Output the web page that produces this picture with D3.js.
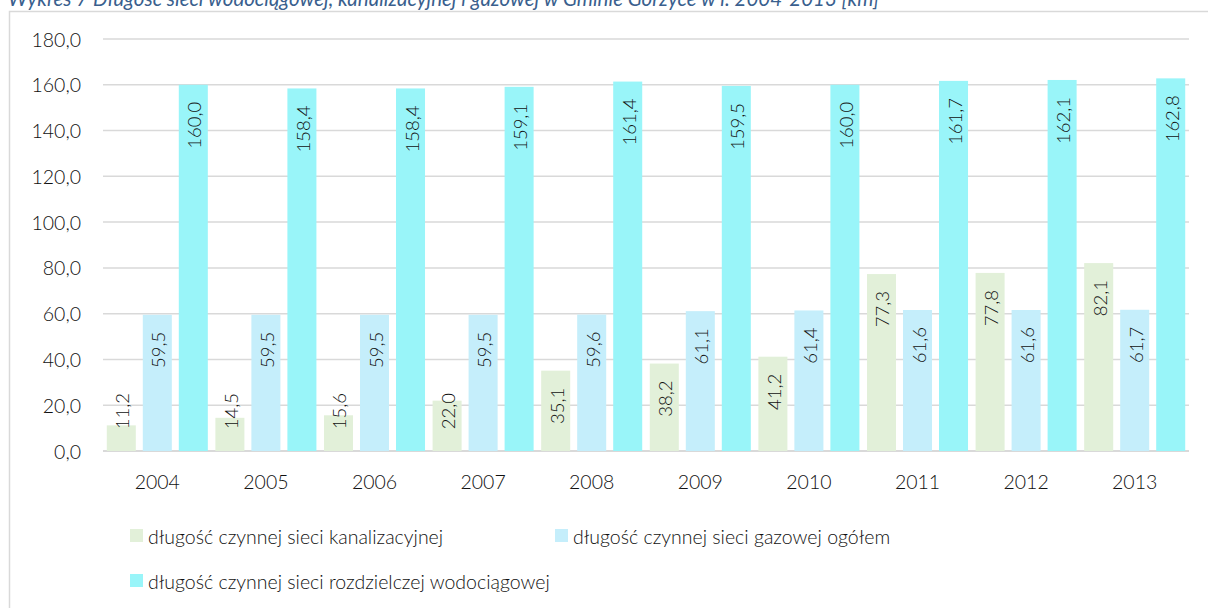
<!DOCTYPE html>
<html>
<head>
<meta charset="utf-8">
<script src="https://cdn.jsdelivr.net/npm/d3@7"></script>
<style>
  body { margin: 0; background: #fff; }
  svg text { font-family: Lato, "Open Sans", sans-serif; font-weight: 300; fill: #111; }
</style>
</head>
<body>
<div id="chart"></div>
<script>
// categories and series
const years = ['2004', '2005', '2006', '2007', '2008', '2009', '2010', '2011', '2012', '2013'];
const kanalizacja = [11.2, 14.5, 15.6, 22.0, 35.1, 38.2, 41.2, 77.3, 77.8, 82.1];
const gaz = [59.5, 59.5, 59.5, 59.5, 59.6, 61.1, 61.4, 61.6, 61.6, 61.7];
const wodociag = [160.0, 158.4, 158.4, 159.1, 161.4, 159.5, 160.0, 161.7, 162.1, 162.8];
const seriesNames = [
  'długość czynnej sieci kanalizacyjnej',
  'długość czynnej sieci gazowej ogółem',
  'długość czynnej sieci rozdzielczej wodociągowej'
];
const yTicks = [0, 20, 40, 60, 80, 100, 120, 140, 160, 180];
const title = 'Wykres 7 Długość sieci wodociągowej, kanalizacyjnej i gazowej w Gminie Gorzyce w l. 2004-2013 [km]';

const colors = ['#e2f0d9', '#c5eefb', '#99f5f9'];
const seriesValues = [kanalizacja, gaz, wodociag];

const W = 1208, H = 608;
const plot = { left: 103, right: 1189, top: 39, bottom: 451 };
const fmt = v => v.toFixed(1).replace('.', ',');

const svg = d3.select('#chart').append('svg')
  .attr('width', W).attr('height', H);

// outer frame of the chart area
svg.append('rect')
  .attr('x', 9.5).attr('y', 11.5)
  .attr('width', 1220).attr('height', 620)
  .attr('fill', 'none').attr('stroke', '#d9d9d9').attr('stroke-width', 1.5);

// title (cut at top of the picture, as in the source)
svg.append('text')
  .attr('x', 8).attr('y', 6)
  .style('font-style', 'italic')
  .style('font-weight', 400)
  .style('font-size', '20.5px')
  .style('fill', '#3a5f8e')
  .text(title);

const x0 = d3.scaleBand().domain(years).range([plot.left, plot.right]).padding(0);
const x1 = d3.scaleBand().domain(d3.range(3)).range([0, x0.bandwidth()])
  .paddingInner(0.194).paddingOuter(0.105);
const y = d3.scaleLinear().domain([0, 180]).range([plot.bottom, plot.top]);

// gridlines
svg.append('g')
  .selectAll('line')
  .data(yTicks)
  .join('line')
  .attr('x1', plot.left).attr('x2', plot.right)
  .attr('y1', d => y(d)).attr('y2', d => y(d))
  .attr('stroke', '#d9d9d9').attr('stroke-width', d => d === 0 ? 2 : 1.5);

// y labels
svg.append('g')
  .selectAll('text')
  .data(yTicks)
  .join('text')
  .attr('x', 81).attr('y', d => y(d))
  .attr('text-anchor', 'end')
  .attr('dominant-baseline', 'central')
  .style('font-size', '19.5px')
  .text(d => fmt(d));

// x labels
svg.append('g')
  .selectAll('text')
  .data(years)
  .join('text')
  .attr('x', d => x0(d) + x0.bandwidth() / 2)
  .attr('y', 489)
  .attr('text-anchor', 'middle')
  .style('font-size', '19.5px')
  .text(d => d);

// bars
const rows = [];
years.forEach((yr, i) => {
  seriesValues.forEach((vals, s) => rows.push({ year: yr, s, v: vals[i] }));
});

const groups = svg.append('g');
groups.selectAll('rect')
  .data(rows)
  .join('rect')
  .attr('x', d => x0(d.year) + x1(d.s))
  .attr('y', d => y(d.v))
  .attr('width', x1.bandwidth())
  .attr('height', d => y(0) - y(d.v))
  .attr('fill', d => colors[d.s]);

// data labels, rotated, near the top inside the bar
groups.selectAll('text')
  .data(rows)
  .join('text')
  .attr('transform', d => {
    const cx = x0(d.year) + x1(d.s) + x1.bandwidth() / 2 + 1;
    const top = Math.min(y(d.v) + 17, 434 - 41);
    return `translate(${cx},${top}) rotate(-90)`;
  })
  .attr('text-anchor', 'end')
  .attr('dominant-baseline', 'central')
  .style('font-size', '18.5px')
  .text(d => fmt(d.v));

// legend
const legendPos = [
  { x: 130, y: 536 },
  { x: 555, y: 536 },
  { x: 130, y: 581 }
];
const legend = svg.append('g')
  .selectAll('g')
  .data(seriesNames)
  .join('g')
  .attr('transform', (d, i) => `translate(${legendPos[i].x},${legendPos[i].y})`);
legend.append('rect')
  .attr('x', 0).attr('y', -7).attr('width', 13).attr('height', 13)
  .attr('fill', (d, i) => colors[i]);
legend.append('text')
  .attr('x', 18).attr('y', 0)
  .attr('dominant-baseline', 'central')
  .style('font-size', '19.5px')
  .text(d => d);
</script>
</body>
</html>
